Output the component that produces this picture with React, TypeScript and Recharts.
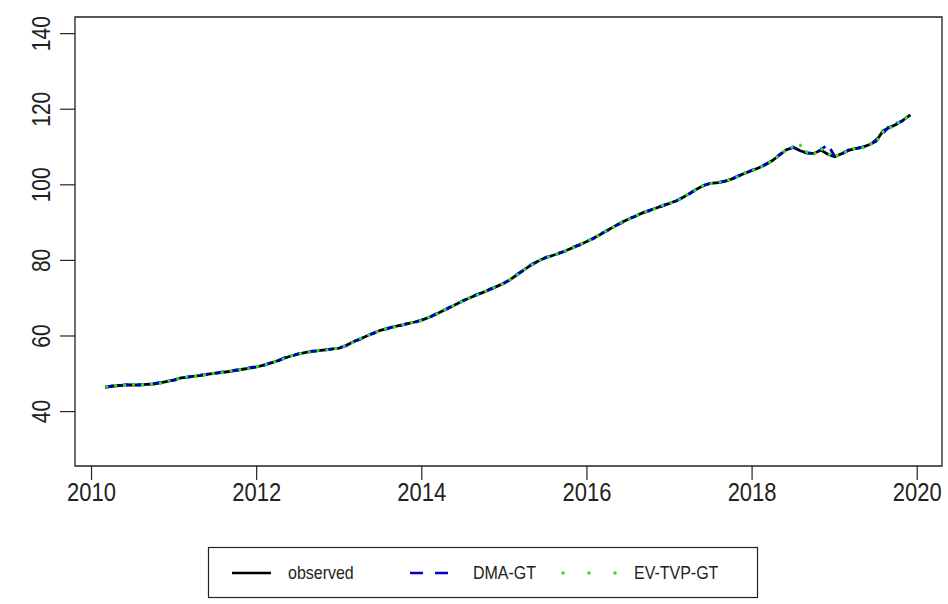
import React from 'react';
import { LineChart, Line, XAxis, YAxis, ReferenceArea } from 'recharts';

// Monthly series, March 2010 .. December 2019
const START_YEAR = 2010;
const START_MONTH = 3;

const observed = [
  46.5, 46.7, 46.9, 47.0, 47.1, 47.0, 47.2, 47.3, 47.6, 48.0,
  48.4, 48.9, 49.1, 49.4, 49.6, 49.9, 50.2, 50.4, 50.6, 50.9, 51.2, 51.5,
  51.8, 52.3, 52.8, 53.4, 54.1, 54.7, 55.2, 55.6, 55.9, 56.1, 56.3, 56.6,
  56.8, 57.5, 58.4, 59.2, 60.0, 60.8, 61.5, 62.0, 62.5, 62.9, 63.3, 63.7,
  64.2, 64.9, 65.7, 66.6, 67.5, 68.4, 69.3, 70.1, 70.9, 71.6, 72.4, 73.2,
  74.0, 75.1, 76.4, 77.7, 78.9, 79.9, 80.7, 81.3, 81.9, 82.6, 83.4, 84.2,
  85.0, 85.9, 86.9, 88.0, 89.0, 90.0, 90.9, 91.7, 92.5, 93.2, 93.8, 94.5,
  95.1, 95.8, 96.7, 97.8, 98.9, 99.9, 100.4, 100.6, 100.9, 101.5, 102.3, 103.1,
  103.8, 104.5, 105.4, 106.5, 107.9, 109.3, 109.9, 109.0, 108.4, 108.3, 109.2, 108.1,
  107.4, 108.2, 109.1, 109.6, 109.9, 110.6, 111.5, 114.2, 115.2, 116.0, 117.2, 118.5,
];

const dmaGT = [
  46.4, 46.8, 46.8, 47.1, 47.0, 47.1, 47.2, 47.4, 47.7, 48.1,
  48.3, 48.8, 49.2, 49.3, 49.7, 49.9, 50.1, 50.5, 50.6, 51.0, 51.1, 51.6,
  51.9, 52.2, 52.9, 53.3, 54.2, 54.6, 55.3, 55.5, 56.0, 56.0, 56.4, 56.5,
  56.9, 57.4, 58.5, 59.1, 60.1, 60.7, 61.6, 61.9, 62.6, 62.8, 63.4, 63.6,
  64.3, 64.8, 65.8, 66.5, 67.6, 68.3, 69.4, 70.0, 71.0, 71.5, 72.5, 73.1,
  74.1, 75.0, 76.5, 77.6, 79.0, 79.8, 80.8, 81.2, 82.0, 82.5, 83.5, 84.1,
  85.1, 85.8, 87.0, 87.9, 89.1, 89.9, 91.0, 91.6, 92.6, 93.1, 93.9, 94.4,
  95.2, 95.7, 96.8, 97.7, 99.0, 99.8, 100.5, 100.5, 101.0, 101.4, 102.4, 103.0,
  103.9, 104.4, 105.5, 106.4, 108.0, 109.2, 110.0, 108.9, 108.5, 108.2, 109.3, 110.6,
  107.6, 108.1, 109.2, 109.5, 110.0, 110.3, 111.9, 113.6, 115.6, 116.3, 117.0, 118.4,
];

const evTvpGT = [
  46.6, 46.6, 47.0, 46.9, 47.2, 47.1, 47.1, 47.4, 47.5, 48.1,
  48.5, 48.8, 49.2, 49.3, 49.7, 49.8, 50.3, 50.3, 50.7, 50.8, 51.3, 51.4,
  51.9, 52.4, 52.7, 53.5, 54.0, 54.8, 55.1, 55.7, 55.8, 56.2, 56.2, 56.7,
  56.7, 57.6, 58.3, 59.3, 59.9, 60.9, 61.4, 62.1, 62.4, 63.0, 63.2, 63.8,
  64.1, 65.0, 65.6, 66.7, 67.4, 68.5, 69.2, 70.2, 70.8, 71.7, 72.3, 73.3,
  73.9, 75.2, 76.3, 77.8, 78.8, 80.0, 80.6, 81.4, 81.8, 82.7, 83.3, 84.3,
  84.9, 86.0, 86.8, 88.1, 88.9, 90.1, 90.8, 91.8, 92.4, 93.3, 93.7, 94.6,
  95.0, 95.9, 96.6, 97.9, 98.8, 100.0, 100.3, 100.7, 100.8, 101.6, 102.2, 103.2,
  103.7, 104.6, 105.3, 106.6, 107.8, 109.4, 110.1, 110.5, 108.6, 108.1, 109.6, 108.3,
  107.3, 108.3, 109.0, 109.7, 109.8, 110.7, 111.2, 114.0, 115.0, 116.2, 117.1, 118.6,
];

const xTicks = [2010, 2012, 2014, 2016, 2018, 2020];
const yTicks = [40, 60, 80, 100, 120, 140];
const xDomain = [2009.8, 2020.3];
const yDomain = [25.6, 144.4];

const legendLabels = ['observed', 'DMA-GT', 'EV-TVP-GT'];

const data = observed.map((v, i) => ({
  t: START_YEAR + (START_MONTH - 1 + i) / 12,
  observed: v,
  dma: dmaGT[i],
  ev: evTvpGT[i],
}));

const FONT = '"Liberation Sans", Arial, sans-serif';
const INK = '#222';
const BLUE = '#0000CC';
const GREEN = '#2EE02E';

const XTick = (props: any) => {
  const { x, y, payload } = props;
  return (
    <g transform={`translate(${x},${y + 21}) scale(1,1.2)`}>
      <text x={0} y={0} textAnchor="middle" fontSize={22} fontFamily={FONT} fill={INK}>
        {payload.value}
      </text>
    </g>
  );
};

const YTick = (props: any) => {
  const { x, y, payload } = props;
  return (
    <g transform={`translate(${x - 10},${y}) rotate(-90) scale(1,1.25)`}>
      <text x={0} y={0} textAnchor="middle" fontSize={21} fontFamily={FONT} fill={INK}>
        {payload.value}
      </text>
    </g>
  );
};

const Legend = () => (
  <svg
    width={948}
    height={604}
    style={{ position: 'absolute', left: 0, top: 0, pointerEvents: 'none' }}
  >
    <rect x={208.5} y={547.5} width={549} height={50} fill="none" stroke={INK} strokeWidth={1.2} />
    <line x1={232} y1={573} x2={271} y2={573} stroke="#000" strokeWidth={2.5} />
    <line x1={410} y1={573} x2={450} y2={573} stroke={BLUE} strokeWidth={2.5} strokeDasharray="13 12" />
    <circle cx={563} cy={573} r={1.8} fill={GREEN} />
    <circle cx={589} cy={573} r={1.8} fill={GREEN} />
    <circle cx={615} cy={573} r={1.8} fill={GREEN} />
    {[288, 473, 634].map((lx, i) => (
      <g key={legendLabels[i]} transform={`translate(${lx},579) scale(1,1.2)`}>
        <text x={0} y={0} fontSize={16} fontFamily={FONT} fill={INK}>
          {legendLabels[i]}
        </text>
      </g>
    ))}
  </svg>
);

export default function App() {
  return (
    <div style={{ position: 'absolute', left: 0, top: 0, width: 948, height: 604, background: '#fff' }}>
      <LineChart
        width={948}
        height={604}
        data={data}
        margin={{ top: 17, right: 6, bottom: 0, left: 0 }}
      >
        <XAxis
          dataKey="t"
          type="number"
          domain={xDomain}
          ticks={xTicks}
          allowDataOverflow
          axisLine={false}
          tickLine={{ stroke: INK, strokeWidth: 1.2 }}
          tickSize={14}
          tickMargin={0}
          height={138}
          tick={<XTick />}
          interval={0}
        />
        <YAxis
          type="number"
          domain={yDomain}
          ticks={yTicks}
          allowDataOverflow
          axisLine={false}
          tickLine={{ stroke: INK, strokeWidth: 1.2 }}
          tickSize={15}
          tickMargin={0}
          width={75}
          tick={<YTick />}
          interval={0}
        />
        <ReferenceArea
          x1={xDomain[0]}
          x2={xDomain[1]}
          y1={yDomain[0]}
          y2={yDomain[1]}
          fill="none"
          fillOpacity={0}
          stroke={INK}
          strokeWidth={1.3}
          ifOverflow="extendDomain"
        />
        <Line
          type="linear"
          dataKey="observed"
          stroke="#000"
          strokeWidth={2.8}
          dot={false}
          isAnimationActive={false}
        />
        <Line
          type="linear"
          dataKey="dma"
          stroke={BLUE}
          strokeWidth={2.8}
          strokeDasharray="8 8"
          dot={false}
          isAnimationActive={false}
        />
        <Line
          type="linear"
          dataKey="ev"
          stroke={GREEN}
          strokeWidth={3}
          strokeDasharray="3 6"
          dot={false}
          isAnimationActive={false}
        />
      </LineChart>
      <Legend />
    </div>
  );
}
